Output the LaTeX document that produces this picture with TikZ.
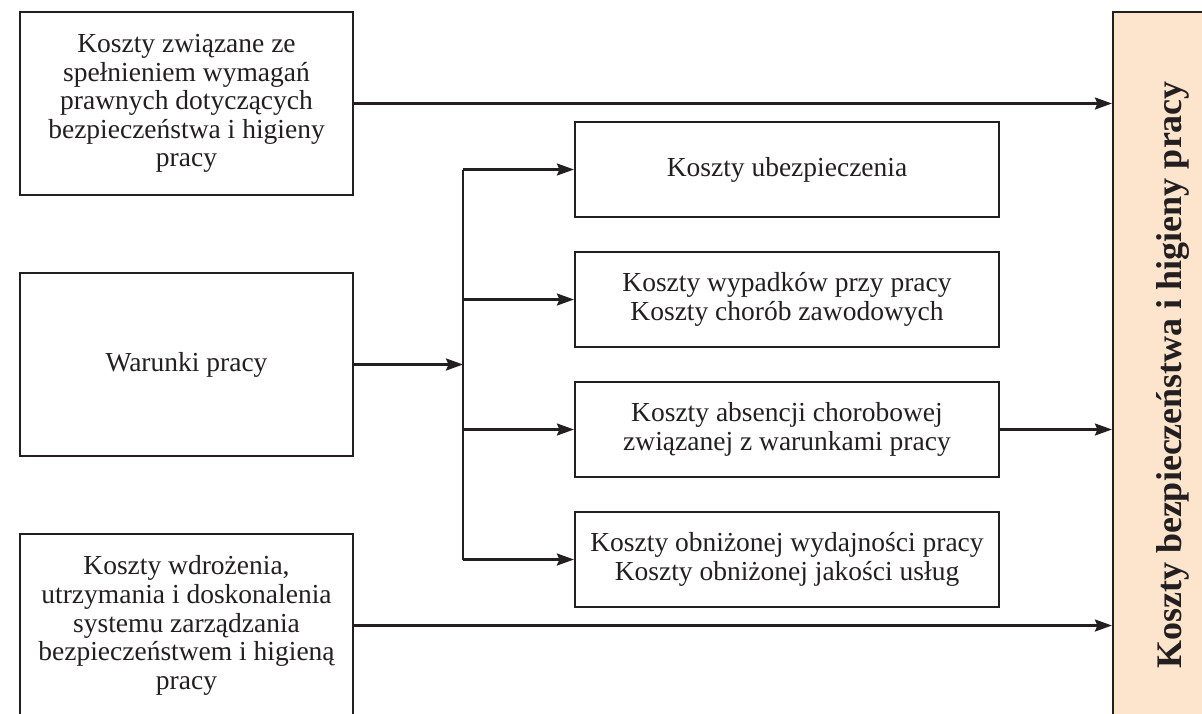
\documentclass[tikz,border=0pt]{standalone}
\usepackage{fontspec}
\setmainfont{Liberation Serif}
\usetikzlibrary{arrows.meta}
\definecolor{ink}{RGB}{35,31,32}
\definecolor{peach}{RGB}{253,228,204}
\begin{document}
\begin{tikzpicture}[x=1pt,y=-1pt,
  box/.style={draw=ink, line width=2.2pt, rectangle, inner sep=0pt, align=center,
    text=ink, font=\fontsize{27.5}{28.6}\selectfont},
  lbox/.style={box, minimum width=333pt, minimum height=183pt},
  rbox/.style={box, minimum width=424pt, minimum height=95pt},
  conn/.style={draw=ink, line width=2.2pt},
  arr/.style={conn, -{Stealth[length=17pt,width=12pt,inset=2.5pt]}}]
\useasboundingbox (0,0) rectangle (1202,713);
% right summary box (extends past the right and bottom edges)
\node[box, fill=peach, minimum width=112pt, minimum height=728pt] (R) at (1169,376) {};
\node[rotate=90, anchor=base, text=ink, font=\fontsize{36}{40}\selectfont\bfseries] (Rt) at (1181,375)
  {Koszty bezpieczeństwa i higieny pracy};
% left boxes
\node[lbox] (L1) at (186.5,103.5) {Koszty związane ze\\spełnieniem wymagań\\prawnych dotyczących\\bezpieczeństwa i higieny\\pracy};
\node[lbox] (L2) at (186.5,364.5) {Warunki pracy};
\node[lbox] (L3) at (186.5,625.5) {Koszty wdrożenia,\\utrzymania i doskonalenia\\systemu zarządzania\\bezpieczeństwem i higieną\\pracy};
% middle boxes
\node[rbox] (A) at (787,169.5) {Koszty ubezpieczenia};
\node[rbox] (B) at (787,299.5) {Koszty wypadków przy pracy\\Koszty chorób zawodowych};
\node[rbox] (C) at (787,429.5) {Koszty absencji chorobowej\\związanej z warunkami pracy};
\node[rbox] (D) at (787,559.5) {Koszty obniżonej wydajności pracy\\Koszty obniżonej jakości usług};
\coordinate (S) at (463,364.5);
% connectors
\draw[arr] (L1.east) -- (L1.east -| R.west);
\draw[arr] (L2.east) -- (S);
\draw[conn] (S |- A.west) -- (S |- D.west);
\draw[arr] (S |- A.west) -- (A.west);
\draw[arr] (S |- B.west) -- (B.west);
\draw[arr] (S |- C.west) -- (C.west);
\draw[arr] (S |- D.west) -- (D.west);
\draw[arr] (C.east) -- (C.east -| R.west);
\draw[arr] (L3.east) -- (L3.east -| R.west);
\end{tikzpicture}
\end{document}
